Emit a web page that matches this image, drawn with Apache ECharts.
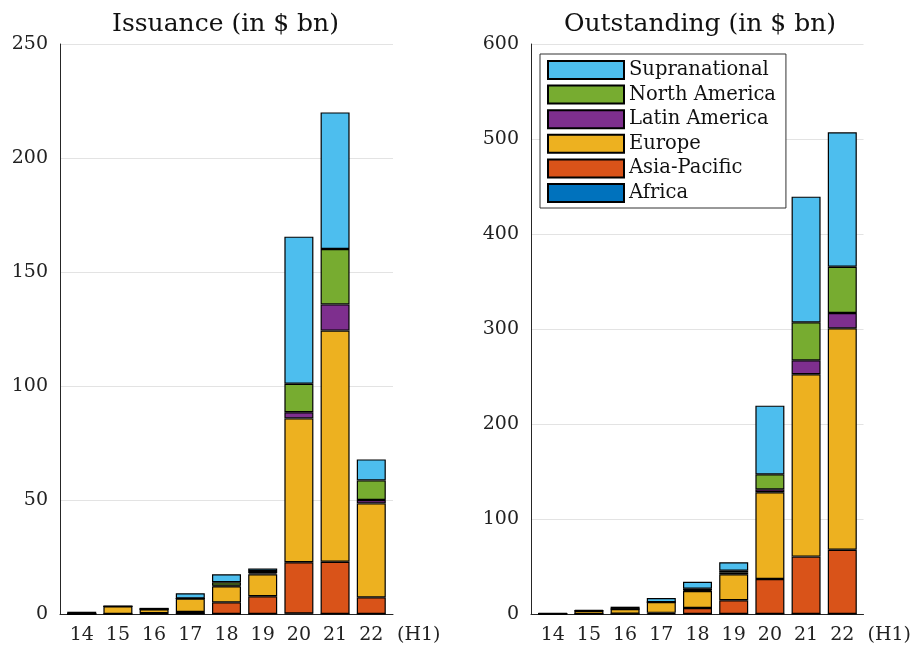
<!DOCTYPE html>
<html>
<head>
<meta charset="utf-8">
<script src="https://cdn.jsdelivr.net/npm/echarts@6/dist/echarts.min.js"></script>
<style>
  html, body { margin: 0; padding: 0; background: #fff; }
  #chart { width: 914px; height: 647px; }
</style>
</head>
<body>
<div id="chart"></div>
<script>
// year labels
const years = ['14', '15', '16', '17', '18', '19', '20', '21', '22']
const regions = ['Africa', 'Asia-Pacific', 'Europe', 'Latin America', 'North America', 'Supranational']
const colors = ['#0072BD', '#D95319', '#EDB120', '#7E2F8E', '#77AC30', '#4DBEEE']

// Issuance (in $ bn)
const issAfrica = [0, 0, 0, 0, 0, 0, 0.2, 0, 0]
const issAsia = [0, 0, 0.3, 0.9, 5.1, 7.8, 22.5, 22.9, 7.3]
const issEurope = [0, 3.4, 1.8, 5.9, 7.0, 9.6, 63.1, 101.4, 41.2]
const issLatin = [0, 0, 0, 0, 0.3, 0.5, 2.7, 11.5, 1.5]
const issNorth = [0, 0, 0, 0, 1.5, 1.0, 12.5, 24.3, 8.6]
const issSupra = [1.0, 0, 0.6, 2.3, 3.5, 1.1, 64.5, 59.9, 9.2]

// Outstanding (in $ bn)
const outAfrica = [0, 0, 0, 0, 0, 0, 0, 0, 0]
const outAsia = [0, 0, 0.3, 1.2, 6.3, 14.4, 36.8, 60.4, 67.7]
const outEurope = [0.5, 3.4, 5.0, 11.3, 17.9, 27.4, 91.3, 191.9, 233.0]
const outLatin = [0, 0, 0, 0, 0.8, 1.7, 3.1, 14.7, 16.1]
const outNorth = [0, 0, 0.4, 0, 1.7, 2.1, 15.8, 40.0, 48.8]
const outSupra = [0.5, 1.0, 2.0, 4.3, 7.3, 8.8, 72.3, 132.3, 141.4]

const issuance = [issAfrica, issAsia, issEurope, issLatin, issNorth, issSupra]
const outstanding = [outAfrica, outAsia, outEurope, outLatin, outNorth, outSupra]

const font = 'DejaVu Serif'
const textColor = '#222'

// outer box: x limits 0.4..9.6 like the original, inner grid holds the 9 bands
const plotW = 333
const pad = plotW / 9.2 * 0.1
const plots = [{ left: 60, max: 250, interval: 50 }, { left: 531, max: 600, interval: 100 }]

const grids = []
const xAxes = []
const yAxes = []
plots.forEach((p, i) => {
  // frame grid (axis lines, y labels, gridlines)
  grids.push({ left: p.left, width: plotW, top: 44, bottom: 33 })
  xAxes.push({
    type: 'value', gridIndex: i, min: 0.4, max: 9.6,
    name: '(H1)', nameLocation: 'end', nameGap: 4,
    nameTextStyle: { fontFamily: font, fontSize: 19, color: textColor, verticalAlign: 'top', padding: [12, 0, 0, 0] },
    axisLine: { show: true, onZero: false, lineStyle: { color: '#262626', width: 1 } },
    axisTick: { show: false },
    axisLabel: { show: false },
    splitLine: { show: false }
  })
  yAxes.push({
    type: 'value', gridIndex: i, min: 0, max: p.max, interval: p.interval,
    axisLine: { show: true, lineStyle: { color: '#262626', width: 1 } },
    axisTick: { show: false },
    splitLine: { show: true, lineStyle: { color: '#e3e3e3', width: 1 } },
    axisLabel: { fontFamily: font, fontSize: 19, color: textColor, margin: 12 }
  })
})
plots.forEach((p, i) => {
  // bar grid (category bands)
  grids.push({ left: p.left + pad, width: plotW - 2 * pad, top: 44, bottom: 33 })
  xAxes.push({
    type: 'category', gridIndex: i + 2, data: years,
    axisLine: { show: false },
    axisTick: { show: false },
    axisLabel: { fontFamily: font, fontSize: 19, color: textColor, margin: 12 }
  })
  yAxes.push({
    type: 'value', gridIndex: i + 2, min: 0, max: p.max, interval: p.interval,
    show: false
  })
})

function makeSeries(values, axisIndex) {
  return regions.map((name, k) => ({
    name: name,
    type: 'bar',
    xAxisIndex: axisIndex,
    yAxisIndex: axisIndex,
    stack: 'g' + axisIndex,
    barWidth: 29,
    itemStyle: { color: colors[k], borderColor: '#000', borderWidth: 1.2 },
    data: values[k]
  }))
}

const options = {
  animation: false,
  title: [
    {
      text: 'Issuance (in $ bn)',
      left: 220.5,
      textAlign: 'center',
      top: 7,
      textStyle: { fontFamily: font, fontSize: 25, fontWeight: 'normal', color: '#111' }
    },
    {
      text: 'Outstanding (in $ bn)',
      left: 695,
      textAlign: 'center',
      top: 7,
      textStyle: { fontFamily: font, fontSize: 25, fontWeight: 'normal', color: '#111' }
    }
  ],
  legend: {
    orient: 'vertical',
    left: 540,
    top: 54,
    padding: [6, 10, 5, 7],
    itemWidth: 76,
    itemHeight: 18,
    itemGap: 4.6,
    icon: 'rect',
    borderColor: '#333',
    borderWidth: 1,
    backgroundColor: '#fff',
    textStyle: { fontFamily: font, fontSize: 19.5, color: '#111', lineHeight: 18 },
    data: regions.slice().reverse()
  },
  grid: grids,
  xAxis: xAxes,
  yAxis: yAxes,
  series: makeSeries(issuance, 2).concat(makeSeries(outstanding, 3))
}

const chart = echarts.init(document.getElementById('chart'))
chart.setOption(options)
</script>
</body>
</html>
